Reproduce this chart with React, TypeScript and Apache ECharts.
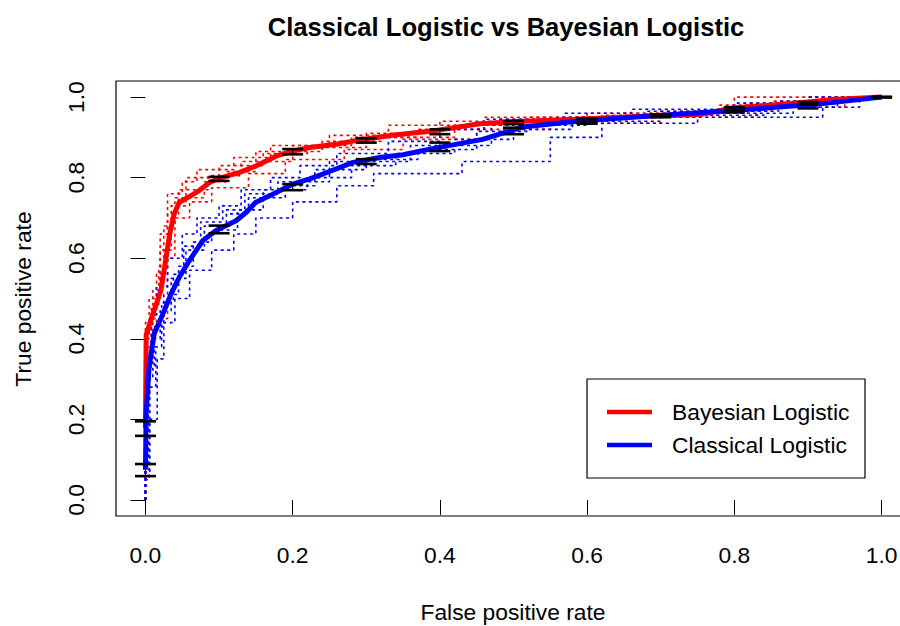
import React, { useEffect, useRef } from "react";
import * as echarts from "echarts";

const titleText = "Classical Logistic vs Bayesian Logistic";
const xTitle = "False positive rate";
const yTitle = "True positive rate";
const legendNames = ["Bayesian Logistic", "Classical Logistic"];
const tickValues = [0, 0.2, 0.4, 0.6, 0.8, 1.0];

// averaged ROC curves [fpr, tpr]
const redMean: number[][] = [
  [0, 0.178], [0.001, 0.41], [0.008, 0.45], [0.021, 0.52], [0.026, 0.578], [0.033, 0.66],
  [0.039, 0.71], [0.046, 0.739], [0.058, 0.751], [0.073, 0.768], [0.087, 0.788], [0.1, 0.798],
  [0.128, 0.813], [0.15, 0.829], [0.178, 0.854], [0.2, 0.866], [0.223, 0.875], [0.259, 0.883],
  [0.295, 0.895], [0.338, 0.906], [0.386, 0.915], [0.454, 0.934], [0.513, 0.94], [0.585, 0.945],
  [0.685, 0.953], [0.753, 0.957], [0.798, 0.973], [0.889, 0.986], [0.934, 0.994], [1, 1],
];
const blueMean: number[][] = [
  [0, 0.075], [0.001, 0.216], [0.005, 0.331], [0.012, 0.413], [0.024, 0.463], [0.035, 0.512],
  [0.046, 0.553], [0.06, 0.595], [0.078, 0.644], [0.096, 0.669], [0.123, 0.693], [0.137, 0.714],
  [0.15, 0.739], [0.173, 0.759], [0.2, 0.784], [0.223, 0.797], [0.241, 0.809], [0.282, 0.838],
  [0.318, 0.85], [0.35, 0.857], [0.39, 0.872], [0.458, 0.895], [0.481, 0.908], [0.513, 0.926],
  [0.585, 0.94], [0.685, 0.953], [0.798, 0.967], [0.911, 0.982], [1, 1],
];

// individual fold curves (step functions)
const redFold1: number[][] = [[0,0],[0,0.44],[0.01,0.44],[0.01,0.52],[0.02,0.52],[0.02,0.66],[0.03,0.66],[0.03,0.76],[0.05,0.76],[0.05,0.79],[0.07,0.79],[0.07,0.82],[0.12,0.82],[0.12,0.85],[0.17,0.85],[0.17,0.88],[0.25,0.88],[0.25,0.905],[0.33,0.905],[0.33,0.93],[0.48,0.93],[0.48,0.945],[0.6,0.945],[0.6,0.96],[0.8,0.96],[0.8,1],[1,1]];
const redFold2: number[][] = [[0,0],[0,0.36],[0.01,0.36],[0.01,0.45],[0.03,0.45],[0.03,0.6],[0.04,0.6],[0.04,0.7],[0.06,0.7],[0.06,0.74],[0.09,0.74],[0.09,0.775],[0.14,0.775],[0.14,0.81],[0.19,0.81],[0.19,0.845],[0.27,0.845],[0.27,0.87],[0.35,0.87],[0.35,0.895],[0.45,0.895],[0.45,0.92],[0.55,0.92],[0.55,0.935],[0.7,0.935],[0.7,0.95],[0.83,0.95],[0.83,0.975],[0.95,0.975],[0.95,1],[1,1]];
const redFold3: number[][] = [[0,0],[0,0.4],[0.005,0.4],[0.005,0.5],[0.02,0.5],[0.02,0.62],[0.035,0.62],[0.035,0.73],[0.055,0.73],[0.055,0.8],[0.1,0.8],[0.1,0.83],[0.16,0.83],[0.16,0.86],[0.22,0.86],[0.22,0.875],[0.3,0.875],[0.3,0.91],[0.4,0.91],[0.4,0.94],[0.52,0.94],[0.52,0.95],[0.7,0.95],[0.7,0.965],[0.85,0.965],[0.85,0.99],[0.93,0.99],[0.93,1],[1,1]];
const redFold4: number[][] = [[0,0],[0,0.42],[0.015,0.42],[0.015,0.56],[0.025,0.56],[0.025,0.68],[0.04,0.68],[0.04,0.75],[0.08,0.75],[0.08,0.79],[0.11,0.79],[0.11,0.815],[0.15,0.815],[0.15,0.865],[0.24,0.865],[0.24,0.89],[0.32,0.89],[0.32,0.9],[0.42,0.9],[0.42,0.93],[0.5,0.93],[0.5,0.94],[0.62,0.94],[0.62,0.955],[0.78,0.955],[0.78,0.98],[0.9,0.98],[0.9,1],[1,1]];
const redFold5: number[][] = [[0,0],[0,0.38],[0.008,0.38],[0.008,0.48],[0.018,0.48],[0.018,0.58],[0.03,0.58],[0.03,0.71],[0.045,0.71],[0.045,0.77],[0.085,0.77],[0.085,0.805],[0.13,0.805],[0.13,0.84],[0.2,0.84],[0.2,0.88],[0.28,0.88],[0.28,0.9],[0.37,0.9],[0.37,0.92],[0.46,0.92],[0.46,0.95],[0.65,0.95],[0.65,0.96],[0.82,0.96],[0.82,0.985],[0.92,0.985],[0.92,1],[1,1]];

const blueFold1: number[][] = [[0,0],[0,0.05],[0.005,0.05],[0.005,0.2],[0.016,0.2],[0.016,0.35],[0.025,0.35],[0.025,0.44],[0.04,0.44],[0.04,0.5],[0.06,0.5],[0.06,0.57],[0.09,0.57],[0.09,0.62],[0.12,0.62],[0.12,0.66],[0.15,0.66],[0.15,0.7],[0.2,0.7],[0.2,0.74],[0.26,0.74],[0.26,0.78],[0.31,0.78],[0.31,0.81],[0.43,0.81],[0.43,0.84],[0.55,0.84],[0.55,0.9],[0.62,0.9],[0.62,0.935],[0.75,0.935],[0.75,0.95],[0.92,0.95],[0.92,0.975],[0.97,0.975],[0.97,1],[1,1]];
const blueFold2: number[][] = [[0,0],[0,0.12],[0.002,0.12],[0.002,0.36],[0.008,0.36],[0.008,0.46],[0.015,0.46],[0.015,0.53],[0.03,0.53],[0.03,0.6],[0.05,0.6],[0.05,0.66],[0.07,0.66],[0.07,0.7],[0.1,0.7],[0.1,0.73],[0.13,0.73],[0.13,0.77],[0.17,0.77],[0.17,0.8],[0.21,0.8],[0.21,0.83],[0.26,0.83],[0.26,0.86],[0.33,0.86],[0.33,0.89],[0.4,0.89],[0.4,0.92],[0.46,0.92],[0.46,0.945],[0.57,0.945],[0.57,0.96],[0.66,0.96],[0.66,0.97],[0.8,0.97],[0.8,0.985],[0.9,0.985],[0.9,1],[1,1]];
const blueFold3: number[][] = [[0,0],[0,0.08],[0.003,0.08],[0.003,0.3],[0.01,0.3],[0.01,0.4],[0.02,0.4],[0.02,0.47],[0.035,0.47],[0.035,0.55],[0.055,0.55],[0.055,0.62],[0.08,0.62],[0.08,0.68],[0.11,0.68],[0.11,0.71],[0.14,0.71],[0.14,0.75],[0.19,0.75],[0.19,0.78],[0.23,0.78],[0.23,0.82],[0.3,0.82],[0.3,0.845],[0.37,0.845],[0.37,0.87],[0.45,0.87],[0.45,0.915],[0.52,0.915],[0.52,0.93],[0.6,0.93],[0.6,0.95],[0.75,0.95],[0.75,0.96],[0.88,0.96],[0.88,0.99],[0.96,0.99],[0.96,1],[1,1]];
const blueFold4: number[][] = [[0,0],[0,0.1],[0.004,0.1],[0.004,0.33],[0.012,0.33],[0.012,0.43],[0.025,0.43],[0.025,0.51],[0.045,0.51],[0.045,0.58],[0.065,0.58],[0.065,0.64],[0.09,0.64],[0.09,0.67],[0.125,0.67],[0.125,0.72],[0.16,0.72],[0.16,0.77],[0.22,0.77],[0.22,0.8],[0.28,0.8],[0.28,0.83],[0.34,0.83],[0.34,0.86],[0.42,0.86],[0.42,0.895],[0.5,0.895],[0.5,0.92],[0.58,0.92],[0.58,0.94],[0.7,0.94],[0.7,0.955],[0.84,0.955],[0.84,0.975],[0.94,0.975],[0.94,1],[1,1]];
const blueFold5: number[][] = [[0,0],[0,0.07],[0.006,0.07],[0.006,0.28],[0.014,0.28],[0.014,0.38],[0.022,0.38],[0.022,0.49],[0.038,0.49],[0.038,0.56],[0.052,0.56],[0.052,0.63],[0.075,0.63],[0.075,0.69],[0.105,0.69],[0.105,0.72],[0.135,0.72],[0.135,0.76],[0.18,0.76],[0.18,0.79],[0.25,0.79],[0.25,0.84],[0.36,0.84],[0.36,0.88],[0.47,0.88],[0.47,0.93],[0.56,0.93],[0.56,0.95],[0.68,0.95],[0.68,0.965],[0.86,0.965],[0.86,0.99],[0.95,0.99],[0.95,1],[1,1]];

// spread bars at fixed fpr
const barX = [0, 0.1, 0.2, 0.3, 0.4, 0.5, 0.6, 0.7, 0.8, 0.9, 1.0];
const redLo = [0.159, 0.792, 0.858, 0.887, 0.908, 0.933, 0.938, 0.952, 0.968, 0.981, 1];
const redHi = [0.195, 0.802, 0.871, 0.898, 0.92, 0.941, 0.947, 0.957, 0.975, 0.988, 1];
const blueLo = [0.059, 0.662, 0.769, 0.834, 0.866, 0.908, 0.934, 0.95, 0.962, 0.972, 1];
const blueHi = [0.089, 0.681, 0.784, 0.846, 0.887, 0.924, 0.945, 0.955, 0.968, 0.984, 1];

const RED = "#ff0000";
const BLUE = "#0000ff";
const FONT = "Liberation Sans, Arial, Helvetica, sans-serif";

function foldSeries(data: number[][], color: string) {
  return {
    type: "line",
    data,
    showSymbol: false,
    symbol: "none",
    silent: true,
    lineStyle: { color, width: 1.6, type: [3, 3.5] },
    z: 2,
  };
}

function barSeries(lo: number[], hi: number[]) {
  return {
    type: "custom",
    silent: true,
    z: 5,
    data: barX.map((x, i) => [x, lo[i], hi[i]]),
    renderItem: (params: any, api: any) => {
      const x = api.value(0);
      const pLo = api.coord([x, api.value(1)]);
      const pHi = api.coord([x, api.value(2)]);
      const st = { stroke: "#000", lineWidth: 2.6 };
      return {
        type: "group",
        children: [
          { type: "line", shape: { x1: pLo[0] - 10.5, y1: pLo[1], x2: pLo[0] + 10.5, y2: pLo[1] }, style: st },
          { type: "line", shape: { x1: pHi[0] - 10.5, y1: pHi[1], x2: pHi[0] + 10.5, y2: pHi[1] }, style: st },
          { type: "line", shape: { x1: pLo[0], y1: pLo[1], x2: pHi[0], y2: pHi[1] }, style: { stroke: "#000", lineWidth: 1 } },
        ],
      };
    },
  };
}

export default function App() {
  const ref = useRef<HTMLDivElement>(null);
  useEffect(() => {
    if (!ref.current) return;
    const chart = echarts.init(ref.current, null, { renderer: "svg" });
    const axisCommon = {
      type: "value",
      min: -0.04,
      max: 1.04,
      splitLine: { show: false },
      axisLine: { show: false },
      axisTick: {
        show: true,
        inside: false,
        length: 15,
        customValues: tickValues,
        lineStyle: { color: "#000", width: 1 },
      },
      axisLabel: {
        show: true,
        customValues: tickValues,
        formatter: (v: number) => v.toFixed(1),
        color: "#000",
        fontSize: 22.8,
        fontFamily: FONT,
      },
    };
    chart.setOption({
      animation: false,
      backgroundColor: "#fff",
      grid: {
        left: 116,
        top: 81,
        width: 795,
        height: 435,
        show: true,
        borderColor: "#000",
        borderWidth: 1.2,
        backgroundColor: "transparent",
        containLabel: false,
      },
      xAxis: { ...axisCommon, axisLabel: { ...axisCommon.axisLabel, margin: 27 } },
      yAxis: { ...axisCommon, axisLabel: { ...axisCommon.axisLabel, rotate: 90, margin: 29 } },
      series: [
        foldSeries(redFold1, RED),
        foldSeries(redFold2, RED),
        foldSeries(redFold3, RED),
        foldSeries(redFold4, RED),
        foldSeries(redFold5, RED),
        { type: "line", name: legendNames[0], data: redMean, showSymbol: false, symbol: "none", lineStyle: { color: RED, width: 5 }, z: 3 },
        barSeries(redLo, redHi),
        foldSeries(blueFold1, BLUE),
        foldSeries(blueFold2, BLUE),
        foldSeries(blueFold3, BLUE),
        foldSeries(blueFold4, BLUE),
        foldSeries(blueFold5, BLUE),
        { type: "line", name: legendNames[1], data: blueMean, showSymbol: false, symbol: "none", lineStyle: { color: BLUE, width: 5 }, z: 4 },
        barSeries(blueLo, blueHi),
      ],
      graphic: [
        {
          type: "text",
          x: 506,
          y: 27,
          style: { text: titleText, font: `bold 25.6px ${FONT}`, fill: "#000", align: "center", verticalAlign: "middle" },
        },
        {
          type: "text",
          x: 513,
          y: 612,
          style: { text: xTitle, font: `22.8px ${FONT}`, fill: "#000", align: "center", verticalAlign: "middle" },
        },
        {
          type: "text",
          x: 23,
          y: 299,
          rotation: Math.PI / 2,
          style: { text: yTitle, font: `22.8px ${FONT}`, fill: "#000", align: "center", verticalAlign: "middle" },
        },
        {
          type: "rect",
          shape: { x: 587, y: 379, width: 278, height: 99 },
          style: { fill: "#fff", stroke: "#000", lineWidth: 1.2 },
          z: 10,
        },
        {
          type: "line",
          shape: { x1: 607, y1: 412, x2: 652, y2: 412 },
          style: { stroke: RED, lineWidth: 4.5 },
          z: 11,
        },
        {
          type: "line",
          shape: { x1: 607, y1: 445, x2: 652, y2: 445 },
          style: { stroke: BLUE, lineWidth: 4.5 },
          z: 11,
        },
        {
          type: "text",
          x: 672,
          y: 412,
          style: { text: legendNames[0], font: `22.8px ${FONT}`, fill: "#000", align: "left", verticalAlign: "middle" },
          z: 11,
        },
        {
          type: "text",
          x: 672,
          y: 445,
          style: { text: legendNames[1], font: `22.8px ${FONT}`, fill: "#000", align: "left", verticalAlign: "middle" },
          z: 11,
        },
      ],
    });
    return () => chart.dispose();
  }, []);
  return (
    <div style={{ position: "fixed", left: 0, top: 0, width: 900, height: 626, overflow: "hidden" }}>
      <div ref={ref} style={{ width: 920, height: 626 }} />
    </div>
  );
}
